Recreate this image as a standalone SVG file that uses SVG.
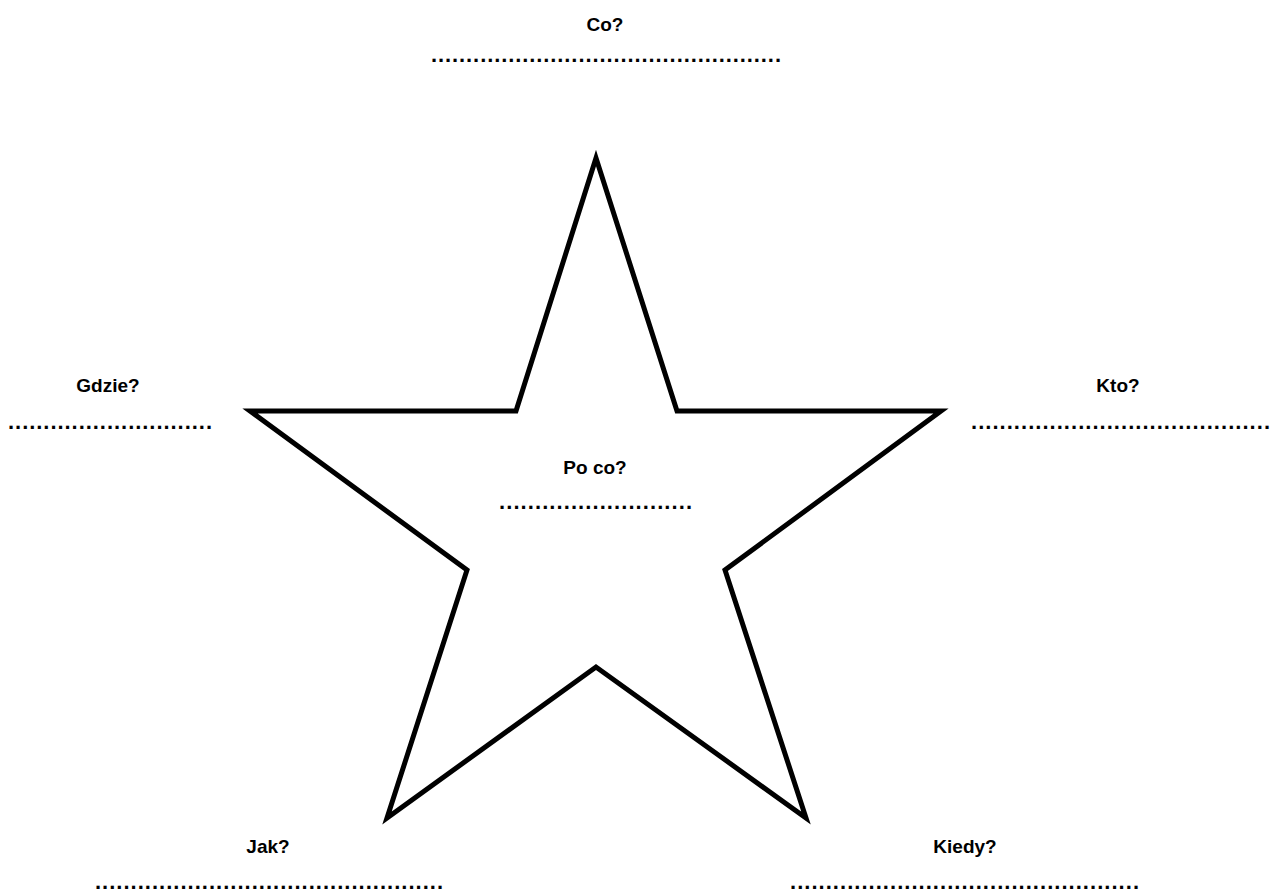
<svg xmlns="http://www.w3.org/2000/svg" width="1280" height="890" viewBox="0 0 1280 890">
<style>
.t{font-family:"Liberation Sans",Arial,sans-serif;font-weight:bold;font-size:19px;fill:#000;text-anchor:middle}
.d{font-family:"Liberation Sans",Arial,sans-serif;font-weight:bold;font-size:22px;fill:#000}
</style>
<rect width="1280" height="890" fill="#fff"/>
<g id="star">
<polygon points="596,158 677,411 941,411 725,570 806,818 596,667 387,818 467,570 250,411 516,411" fill="#fff" stroke="#000" stroke-width="5" stroke-linejoin="miter" stroke-miterlimit="10"/>
</g>
<g id="co">
<text class="t" x="605" y="31">Co?</text>
<text class="d" x="431" y="62" textLength="350" lengthAdjust="spacing">..................................................</text>
</g>
<g id="gdzie">
<text class="t" x="108" y="392">Gdzie?</text>
<text class="d" x="8" y="429" textLength="204" lengthAdjust="spacing">.............................</text>
</g>
<g id="kto">
<text class="t" x="1118" y="392">Kto?</text>
<text class="d" x="971" y="429" textLength="299" lengthAdjust="spacing">..........................................</text>
</g>
<g id="poco">
<text class="t" x="595" y="474">Po co?</text>
<text class="d" x="499" y="509" textLength="193" lengthAdjust="spacing">...........................</text>
</g>
<g id="jak">
<text class="t" x="268" y="853">Jak?</text>
<text class="d" x="95" y="889" textLength="348" lengthAdjust="spacing">.................................................</text>
</g>
<g id="kiedy">
<text class="t" x="965" y="853">Kiedy?</text>
<text class="d" x="790" y="889" textLength="349" lengthAdjust="spacing">.................................................</text>
</g>
</svg>
